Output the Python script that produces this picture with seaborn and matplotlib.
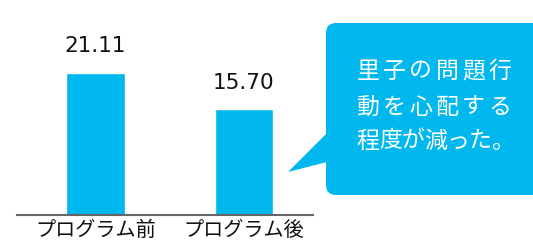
import matplotlib
matplotlib.use("Agg")
import matplotlib.pyplot as plt
import seaborn as sns
import pandas as pd
from matplotlib.patches import FancyBboxPatch, Polygon

categories = ["プログラム前", "プログラム後"]
values = [21.11, 15.70]
value_labels = ["21.11", "15.70"]
bubble_lines = ["里子の問題行", "動を心配する", "程度が減った。"]

sns.set_theme(style="white")
plt.rcParams['font.family'] = ['Noto Sans CJK JP', 'DejaVu Sans']

W, H = 533, 243
fig = plt.figure(figsize=(W / 100, H / 100), dpi=100)
ax = fig.add_axes([17 / W, 1 - 214.7 / H, (313 - 17) / W, 214.7 / H])

df = pd.DataFrame({"cat": categories, "val": values})
color = "#00B8EE"
sns.barplot(data=df, x="cat", y="val", color=color, width=0.395,
            saturation=1, ax=ax)

ax.set_xlim(-0.529, 1.465)
ax.set_ylim(0, 31.9)
ax.set_xlabel("")
ax.set_ylabel("")
ax.set_yticks([])
for s in ["top", "left", "right"]:
    ax.spines[s].set_visible(False)
ax.spines["bottom"].set_color("#666666")
ax.spines["bottom"].set_linewidth(1.5)
ax.tick_params(axis="x", length=0, pad=4, labelsize=14.5, colors="#111111")
for lbl in ax.get_xticklabels():
    lbl.set_family(['Noto Sans CJK JP', 'DejaVu Sans'])

for i, (v, t) in enumerate(zip(values, value_labels)):
    ax.annotate(t, (i, v), xytext=(0, 14.6), textcoords="offset points",
                ha="center", va="baseline", fontsize=15.5, color="#111111",
                family=['DejaVu Sans'])

# overlay in pixel coordinates for the speech bubble
ov = fig.add_axes([0, 0, 1, 1])
ov.set_xlim(0, W)
ov.set_ylim(H, 0)
ov.axis("off")
ov.patch.set_alpha(0)
box = FancyBboxPatch((326, 23), 230, 172, boxstyle="round,pad=0,rounding_size=10",
                     facecolor=color, edgecolor="none")
ov.add_patch(box)
ov.add_patch(Polygon([(327, 133), (288, 172), (327, 162)], closed=True,
                     facecolor=color, edgecolor="none"))

line_y = [71, 107, 141]
pitches = [26.4, 26.4, 22.4]
x0 = 357 + 11
for line, y, p in zip(bubble_lines, line_y, pitches):
    for k, ch in enumerate(line):
        ov.text(x0 + k * p, y, ch, ha="center", va="center", fontsize=16.5,
                color="white", family=['Noto Sans CJK JP', 'DejaVu Sans'])

fig.savefig("out.png", dpi=100)
